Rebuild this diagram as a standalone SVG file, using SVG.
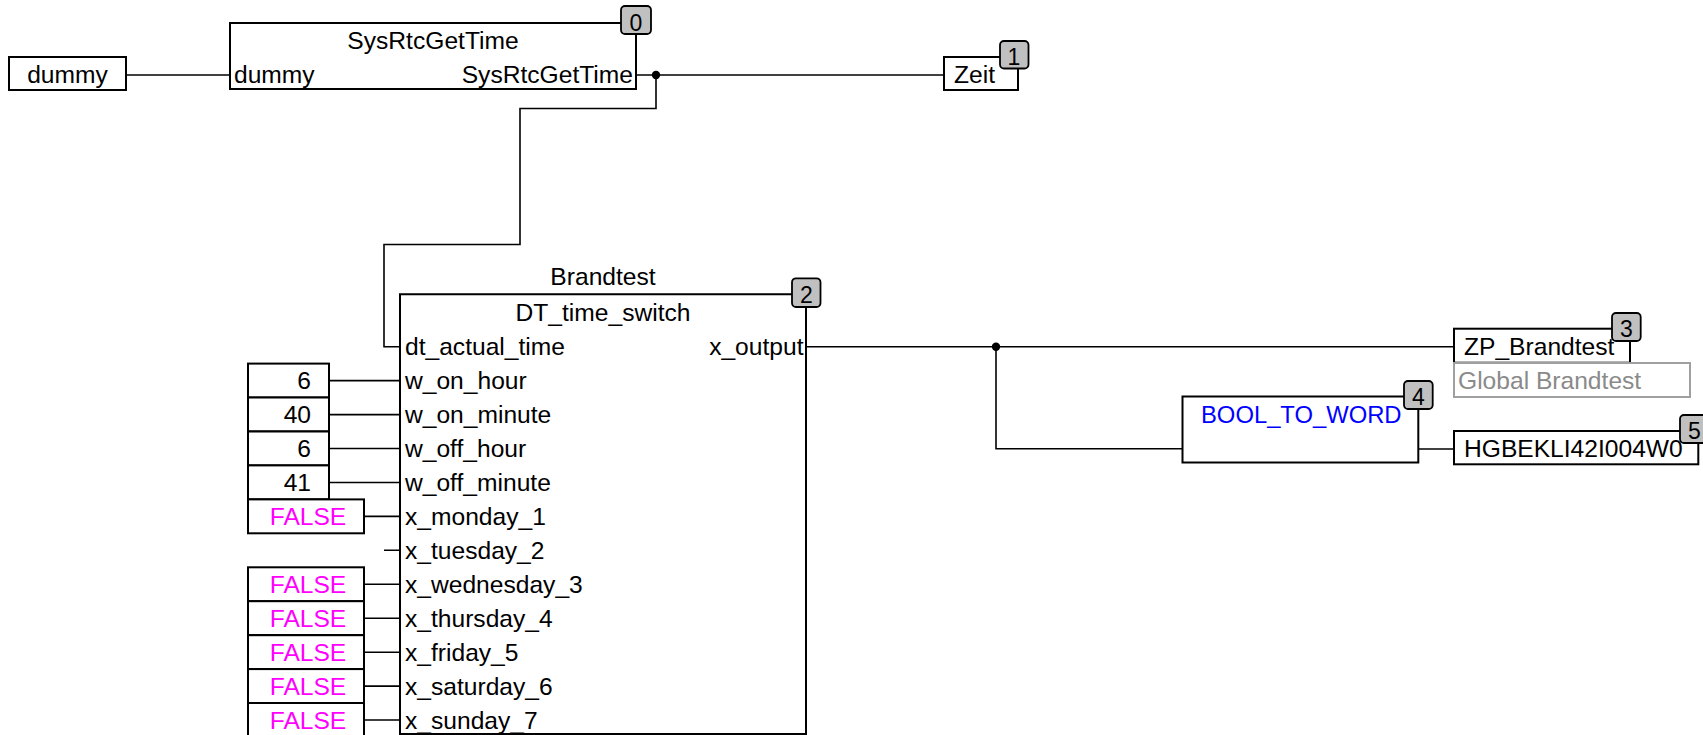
<svg xmlns="http://www.w3.org/2000/svg" width="1703" height="735" viewBox="0 0 1703 735">
<style>
text{font-family:"Liberation Sans",Arial,sans-serif;font-size:24.6px;fill:#000}
.box{fill:#fff;stroke:#000;stroke-width:2}
.wire{fill:none;stroke:#000;stroke-width:1.6}
.badge{fill:#c0c0c0;stroke:#000;stroke-width:1.8}
.bt{font-size:23px;text-anchor:middle}
.mid{text-anchor:middle}
.end{text-anchor:end}
.f{fill:#ff00ff}
</style>
<rect width="1703" height="735" fill="#fff"/>
<g id="connectors">
<path class="wire" d="M126,75H230"/>
<path class="wire" d="M636,75H944"/>
<path class="wire" d="M656,75V108.5H520V244.5H384V346.7H400"/>
<circle cx="656" cy="75" r="4.2" fill="#000"/>
<path class="wire" d="M329,380.6H400M329,414.6H400M329,448.5H400M329,482.5H400"/>
<path class="wire" d="M364,516.4H400M384,550.3H400M364,584.3H400M364,618.2H400M364,652.2H400M364,686.1H400M364,720H400"/>
<path class="wire" d="M806,346.7H1454"/>
<path class="wire" d="M996,346.7V448.7H1182"/>
<circle cx="996" cy="346.7" r="4.2" fill="#000"/>
<path class="wire" d="M1418,449H1454"/>
</g>
<g id="in_dummy">
<rect class="box" x="9" y="57" width="117" height="33"/>
<text class="mid" x="67.5" y="82.5">dummy</text>
</g>
<g id="n0">
<rect x="230" y="23" width="406" height="66" fill="#fff"/>
<path fill="none" stroke="#000" stroke-width="2" d="M621,23H230V89H636V34"/>
<text class="mid" x="433" y="49">SysRtcGetTime</text>
<text x="234" y="83">dummy</text>
<text class="end" x="633" y="83">SysRtcGetTime</text>
<rect class="badge" x="621" y="6" width="30" height="28" rx="4"/>
<text class="bt" x="636" y="30.5">0</text>
</g>
<g id="n1">
<rect class="box" x="944" y="57" width="74" height="33"/>
<text x="954" y="82.5">Zeit</text>
<rect class="badge" x="1000" y="41" width="28.5" height="27.5" rx="4"/>
<text class="bt" x="1014" y="65">1</text>
</g>
<g id="n2">
<rect x="400" y="294.3" width="406" height="440" fill="#fff"/>
<path fill="none" stroke="#000" stroke-width="2" d="M792,294.3H400V734H806V307"/>
<text class="mid" x="603" y="285">Brandtest</text>
<text class="mid" x="603" y="321">DT_time_switch</text>
<text x="405" y="355.2">dt_actual_time</text>
<text class="end" x="803.5" y="355.2">x_output</text>
<text x="405" y="389.1">w_on_hour</text>
<text x="405" y="423.1">w_on_minute</text>
<text x="405" y="457">w_off_hour</text>
<text x="405" y="491">w_off_minute</text>
<text x="405" y="524.9">x_monday_1</text>
<text x="405" y="558.8">x_tuesday_2</text>
<text x="405" y="592.8">x_wednesday_3</text>
<text x="405" y="626.7">x_thursday_4</text>
<text x="405" y="660.7">x_friday_5</text>
<text x="405" y="694.6">x_saturday_6</text>
<text x="405" y="728.5">x_sunday_7</text>
<rect class="badge" x="792" y="278.3" width="28.5" height="28.7" rx="4"/>
<text class="bt" x="806.3" y="302.5">2</text>
</g>
<g id="c_on_hour"><rect class="box" x="248" y="363.6" width="81" height="33.9"/><text class="end" x="311" y="389.1">6</text></g>
<g id="c_on_minute"><rect class="box" x="248" y="397.5" width="81" height="33.9"/><text class="end" x="311" y="423.1">40</text></g>
<g id="c_off_hour"><rect class="box" x="248" y="431.5" width="81" height="33.9"/><text class="end" x="311" y="457">6</text></g>
<g id="c_off_minute"><rect class="box" x="248" y="465.4" width="81" height="33.9"/><text class="end" x="311" y="491">41</text></g>
<g id="c_monday"><rect class="box" x="248" y="499.4" width="116" height="33.9"/><text class="mid f" x="308" y="524.9">FALSE</text></g>
<g id="c_wednesday"><rect class="box" x="248" y="567.3" width="116" height="33.9"/><text class="mid f" x="308" y="592.8">FALSE</text></g>
<g id="c_thursday"><rect class="box" x="248" y="601.2" width="116" height="33.9"/><text class="mid f" x="308" y="626.7">FALSE</text></g>
<g id="c_friday"><rect class="box" x="248" y="635.2" width="116" height="33.9"/><text class="mid f" x="308" y="660.7">FALSE</text></g>
<g id="c_saturday"><rect class="box" x="248" y="669.1" width="116" height="33.9"/><text class="mid f" x="308" y="694.6">FALSE</text></g>
<g id="c_sunday"><rect class="box" x="248" y="703" width="116" height="36"/><text class="mid f" x="308" y="728.5">FALSE</text></g>
<g id="n3">
<rect class="box" x="1454" y="328.7" width="176" height="34"/>
<text x="1464" y="354.5">ZP_Brandtest</text>
<rect x="1454" y="363" width="236" height="34" fill="#fff" stroke="#a0a0a0" stroke-width="2"/>
<text x="1458" y="388.5" style="fill:#8a8a8a">Global Brandtest</text>
<rect class="badge" x="1612" y="313" width="28.7" height="28" rx="4"/>
<text class="bt" x="1626.3" y="337">3</text>
</g>
<g id="n4">
<rect class="box" x="1182.5" y="396.5" width="235.8" height="66"/>
<text x="1201" y="422.7" style="fill:#0000ff;font-size:23.8px">BOOL_TO_WORD</text>
<rect class="badge" x="1404" y="381" width="28.7" height="28" rx="4"/>
<text class="bt" x="1418.3" y="405">4</text>
</g>
<g id="n5">
<rect class="box" x="1454" y="431" width="244.3" height="33.3"/>
<text x="1464" y="457">HGBEKLI42I004W0</text>
<rect class="badge" x="1680" y="415" width="28.7" height="28" rx="4"/>
<text class="bt" x="1694.3" y="439">5</text>
</g>
</svg>
